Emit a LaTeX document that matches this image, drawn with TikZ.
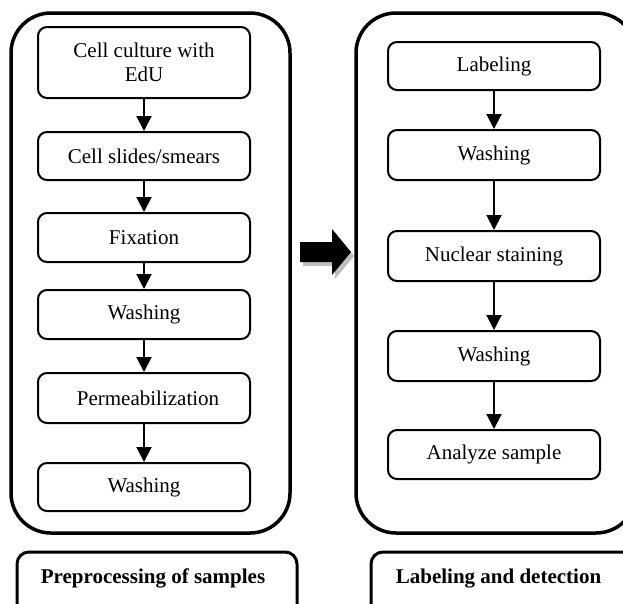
\documentclass[tikz,border=0pt]{standalone}
\usepackage{fontspec}
\setmainfont{Liberation Serif}
\usetikzlibrary{arrows.meta}
\begin{document}
\begin{tikzpicture}[x=1pt,y=-1pt,
  stepbox/.style={draw, line width=2pt, rounded corners=9pt, minimum width=212pt, inner sep=0pt, align=center, font=\fontsize{21}{24}\selectfont},
  flow/.style={line width=2pt, -{Triangle[length=15pt,width=15pt]}},
  panel/.style={line width=3.5pt, rounded corners=40pt},
  tag/.style={line width=3pt, rounded corners=12pt},
  tagtext/.style={font=\fontsize{21}{24}\selectfont\bfseries, anchor=base, inner sep=0pt}]
\useasboundingbox (0,0) rectangle (623,603);
\clip (0,0) rectangle (623,603);
% panels
\draw[panel] (11,13) rectangle (290,533);
\draw[panel] (356,13) rectangle (636,533);
% left column
\node[stepbox, minimum height=71pt] (a1) at (144,62.5) {Cell culture with\\EdU};
\node[stepbox, minimum height=48pt] (a2) at (144,156) {Cell slides/smears};
\node[stepbox, minimum height=49pt] (a3) at (144,237.5) {Fixation};
\node[stepbox, minimum height=49pt] (a4) at (144,314.5) {Washing};
\node[stepbox, minimum height=50pt] (a5) at (144,398) {\hspace*{8pt}Permeabilization};
\node[stepbox, minimum height=48pt] (a6) at (144,487) {Washing};
\draw[flow] (a1) -- (a2);
\draw[flow] (a2) -- (a3);
\draw[flow] (a3) -- (a4);
\draw[flow] (a4) -- (a5);
\draw[flow] (a5) -- (a6);
% right column
\node[stepbox, minimum height=48pt] (b1) at (494,66) {Labeling};
\node[stepbox, minimum height=50pt] (b2) at (494,155) {Washing};
\node[stepbox, minimum height=50pt] (b3) at (494,256) {Nuclear staining};
\node[stepbox, minimum height=50pt] (b4) at (494,356) {Washing};
\node[stepbox, minimum height=49pt] (b5) at (494,454.5) {Analyze sample};
\draw[flow] (b1) -- (b2);
\draw[flow] (b2) -- (b3);
\draw[flow] (b3) -- (b4);
\draw[flow] (b4) -- (b5);
% big arrow with shadow
\fill[black!25] (303,246) -- (335,246) -- (335,233) -- (354,256) -- (335,279) -- (335,266) -- (303,266) -- cycle;
\fill[black] (300,242) -- (332,242) -- (332,229) -- (351,252) -- (332,275) -- (332,262) -- (300,262) -- cycle;
% bottom tags
\draw[tag] (17,620) -- (17,552) -- (297,552) -- (297,620);
\draw[tag] (371,620) -- (371,552) -- (651,552) -- (651,620);
\node[tagtext] (t1) at (153,583) {Preprocessing of samples};
\node[tagtext] (t2) at (498.5,583) {Labeling and detection};
\end{tikzpicture}
\end{document}
